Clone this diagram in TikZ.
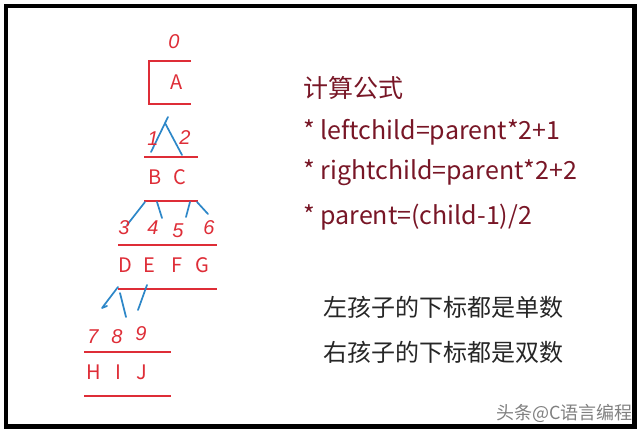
\documentclass[tikz,border=0pt]{standalone}
\usepackage{fontspec}
\setmainfont{Noto Sans CJK SC}
\newfontfamily\handfont{Liberation Sans}
\definecolor{penred}{RGB}{222,45,55}
\definecolor{penblue}{RGB}{45,135,200}
\definecolor{formred}{RGB}{120,22,38}

\begin{document}
\begin{tikzpicture}[x=1pt,y=-1pt,
    redline/.style={penred,line width=2.2pt},
    blueline/.style={penblue,line width=1.7pt,line cap=round,line join=round},
    letter/.style={penred,inner sep=0pt,font=\fontsize{20}{20}\selectfont},
    digit/.style={penred,inner sep=0pt,font=\handfont\itshape\fontsize{20}{20}\selectfont},
    formula/.style={formred,anchor=west,inner sep=0pt,font=\fontsize{25}{25}\selectfont},
    remark/.style={black!85,anchor=west,inner sep=0pt,font=\fontsize{24}{24}\selectfont}]
    \useasboundingbox(0,0)rectangle(640,436);
    \draw[line width=4.5pt](6,6)rectangle(634.5,426.5);

    %% level 0
    \node[digit](n0)at(174,42){0};
    \draw[redline](191,61)--(149,61)--(149,104)--(191,104);
    \node[letter](A)at(177,82){A};

    %% level 1
    \draw[blueline](151,152)--(168,117);
    \draw[blueline](165,123)--(182,155);
    \node[digit](n1)at(153,139){1};
    \node[digit](n2)at(185,138){2};
    \draw[redline](144,157)--(198,157);
    \node[letter](B)at(155,177){B};
    \node[letter](C)at(180,177){C};
    \draw[redline](144,201)--(198,201);

    %% level 2
    \draw[blueline](145,202)--(127,225);
    \draw[blueline](157,202)--(162,218);
    \draw[blueline](190,202)--(186,217);
    \draw[blueline](197,202)--(208,214);
    \node[digit](n3)at(124,228){3};
    \node[digit](n4)at(153,228){4};
    \node[digit](n5)at(178,231){5};
    \node[digit](n6)at(209,228){6};
    \draw[redline](118,245)--(217,245);
    \node[letter](D)at(125,265){D};
    \node[letter](E)at(149,265){E};
    \node[letter](F)at(177,265){F};
    \node[letter](G)at(202,265){G};
    \draw[redline](118,289)--(217,289);

    %% level 3
    \draw[blueline](118,287)--(102,308)--(107,306);
    \draw[blueline](120,293)--(126,317);
    \draw[blueline](147,285)--(138,310);
    \node[digit](n7)at(93,337){7};
    \node[digit](n8)at(117,337){8};
    \node[digit](n9)at(141,334){9};
    \draw[redline](84,352)--(171,352);
    \node[letter](H)at(94,372){H};
    \node[letter](I)at(118,372){I};
    \node[letter](J)at(142,372){J};
    \draw[redline](84,396)--(171,396);

    %% formulas
    \node[formula](title)at(303,88){计算公式};
    \node[formula](left)at(303,132){* leftchild=parent*2+1};
    \node[formula](right)at(303,173){* rightchild=parent*2+2};
    \node[formula](parent)at(303,217){* parent=(child-1)/2};
    \node[remark](odd)at(323,307){左孩子的下标都是单数};
    \node[remark](even)at(323,352){右孩子的下标都是双数};
    \node[gray,anchor=east,inner sep=0pt,font=\fontsize{18}{18}\selectfont](mark)at(633,413){头条@C语言编程};
\end{tikzpicture}
\end{document}
